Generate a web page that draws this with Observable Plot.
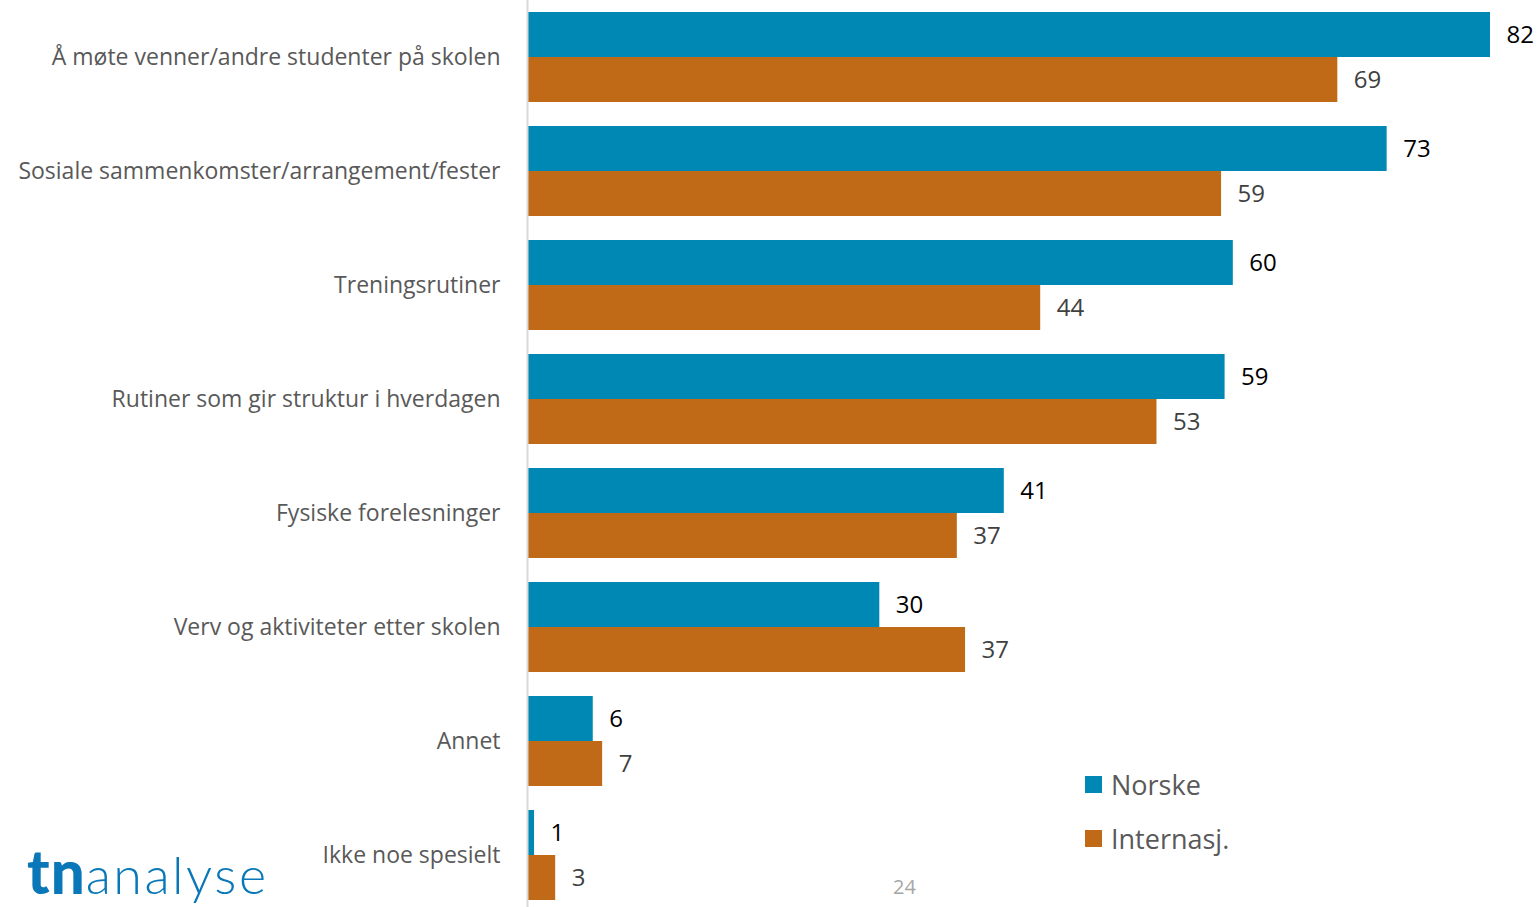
<!DOCTYPE html>
<html>
<head>
<meta charset="utf-8">
<script src="https://cdn.jsdelivr.net/npm/d3@7"></script>
<script src="https://cdn.jsdelivr.net/npm/@observablehq/plot@0.6"></script>
<style>
  html, body { margin: 0; padding: 0; background: #fff; }
  #wrap { position: relative; width: 1538px; height: 907px; overflow: hidden; font-family: "Open Sans", sans-serif; }
  #legend { position: absolute; left: 1085px; top: 757px; color: #595959; font-size: 27px; }
  .item { display: flex; align-items: center; height: 54px; }
  .sw { width: 17px; height: 17px; margin-right: 9px; }
  #logo { position: absolute; left: 27px; top: 841px; color: #0a78b8; font-family: Lato, sans-serif; font-size: 52px; line-height: 1; white-space: nowrap; }
  #logo b { font-weight: 900; letter-spacing: 1px; font-size: 60px; }
  #logo span { font-weight: 300; letter-spacing: 2.5px; }
  #page { position: absolute; left: 893px; top: 873px; color: #a6a6a6; font-size: 20px; }
</style>
</head>
<body>
<div id="wrap">
  <div id="chart"></div>
  <div id="legend"></div>
  <div id="logo"><b>tn</b><span>analyse</span></div>
  <div id="page">24</div>
</div>
<script>
const categories = [
  "Å møte venner/andre studenter på skolen",
  "Sosiale sammenkomster/arrangement/fester",
  "Treningsrutiner",
  "Rutiner som gir struktur i hverdagen",
  "Fysiske forelesninger",
  "Verv og aktiviteter etter skolen",
  "Annet",
  "Ikke noe spesielt"
];
const series = ["Norske", "Internasj."];
// bar lengths
const norske = [82.0, 73.2, 60.1, 59.4, 40.6, 30.0, 5.6, 0.6];
const internasj = [69.0, 59.1, 43.7, 53.6, 36.6, 37.3, 6.4, 2.4];
// printed data labels
const norskeLabels = [82, 73, 60, 59, 41, 30, 6, 1];
const internasjLabels = [69, 59, 44, 53, 37, 37, 7, 3];
const colors = ["#0088b4", "#c06a17"];

const data = categories.flatMap((c, i) => [
  {category: c, series: series[0], value: norske[i], label: norskeLabels[i]},
  {category: c, series: series[1], value: internasj[i], label: internasjLabels[i]}
]);

const chart = Plot.plot({
  width: 1538,
  height: 907,
  marginLeft: 527,
  marginRight: 48,
  marginTop: 12,
  marginBottom: 7,
  style: {fontFamily: "'Open Sans', sans-serif", fontSize: "23px", color: "#595959", background: "#fff"},
  x: {domain: [0, 82], axis: null},
  y: {domain: series, axis: null, paddingInner: 0, paddingOuter: 0},
  fy: {domain: categories, axis: "left", label: null, tickSize: 0, tickPadding: 27, paddingInner: 24 / 114, paddingOuter: 0},
  color: {domain: series, range: colors},
  marks: [
    Plot.barX(data, {fy: "category", y: "series", x: "value", fill: "series"}),
    Plot.text(data.filter(d => d.series === series[0]), {fy: "category", y: "series", x: "value", text: d => String(d.label), dx: 16, textAnchor: "start", fill: "#000", fontSize: 24}),
    Plot.text(data.filter(d => d.series === series[1]), {fy: "category", y: "series", x: "value", text: d => String(d.label), dx: 16, textAnchor: "start", fill: "#404040", fontSize: 24}),
    Plot.ruleX([0], {stroke: "#d9d9d9", strokeWidth: 2, insetTop: -12, insetBottom: -12})
  ]
});
document.getElementById("chart").appendChild(chart);

const legend = document.getElementById("legend");
series.forEach((s, i) => {
  const it = document.createElement("div");
  it.className = "item";
  it.innerHTML = `<div class="sw" style="background:${colors[i]}"></div><div>${s}</div>`;
  legend.appendChild(it);
});
</script>
</body>
</html>
